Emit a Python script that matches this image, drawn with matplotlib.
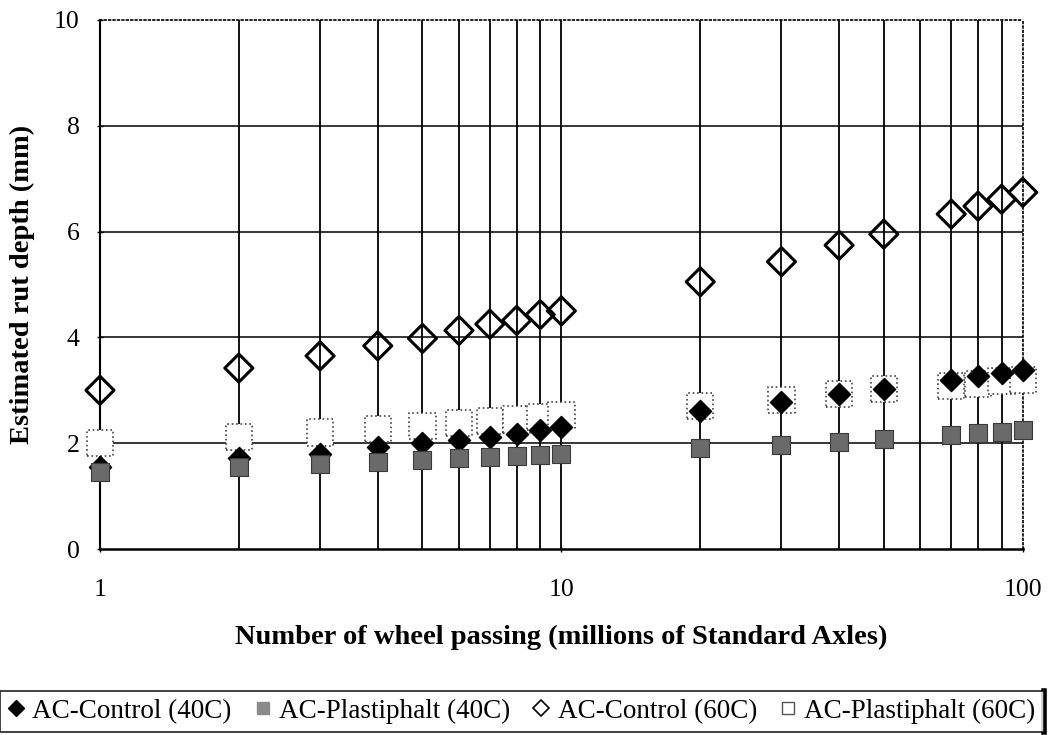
import numpy as np
import matplotlib
matplotlib.use('Agg')
import matplotlib.pyplot as plt
from matplotlib.lines import Line2D
from matplotlib.ticker import FixedLocator, NullFormatter

plt.rcParams['font.family'] = ['Liberation Serif', 'DejaVu Serif']

# wheel passes (millions of standard axles)
passes = [1, 2, 3, 4, 5, 6, 7, 8, 9, 10, 20, 30, 40, 50, 70, 80, 90, 100]

control40 = [1.55, 1.72, 1.80, 1.93, 2.00, 2.06, 2.12, 2.17, 2.25, 2.30,
             2.60, 2.77, 2.93, 3.03, 3.20, 3.27, 3.33, 3.38]
plasti40 = [1.45, 1.55, 1.60, 1.65, 1.68, 1.72, 1.73, 1.76, 1.78, 1.80,
            1.90, 1.97, 2.03, 2.08, 2.15, 2.19, 2.22, 2.25]
control60 = [3.00, 3.42, 3.65, 3.84, 3.98, 4.13, 4.25, 4.32, 4.43, 4.50,
             5.05, 5.43, 5.74, 5.95, 6.33, 6.48, 6.61, 6.74]
plasti60 = [2.00, 2.12, 2.20, 2.27, 2.33, 2.38, 2.42, 2.45, 2.50, 2.53,
            2.70, 2.82, 2.93, 3.02, 3.08, 3.12, 3.18, 3.20]

labels = ['AC-Control (40C)', 'AC-Plastiphalt (40C)',
          'AC-Control (60C)', 'AC-Plastiphalt (60C)']

fig = plt.figure(figsize=(10.51, 7.35), dpi=100)
ax = fig.add_axes([0.0951, 0.253, 0.878, 0.72])

ax.set_xscale('log')
ax.set_xlim(1, 100)
ax.set_ylim(0, 10)

# grid: every integer step inside each decade, every 2 mm across
xgrid = list(range(2, 10)) + list(range(10, 100, 10))
for xv in xgrid:
    ax.axvline(xv, color='black', lw=1.3, zorder=1)
for yv in [2, 4, 6, 8]:
    ax.axhline(yv, color='black', lw=1.1, zorder=1)

ax.scatter(passes, plasti60, marker='s', s=19**2, facecolor='white',
           edgecolor='#444444', linewidths=1.2, linestyles=':', zorder=3,
           clip_on=False)
ax.scatter(passes, control40, marker='D', s=11.3**2, facecolor='black',
           edgecolor='black', zorder=4, clip_on=False)
ax.scatter(passes, plasti40, marker='s', s=13**2, facecolor='#6a6a6a',
           edgecolor='#3a3a3a', linewidths=0.8, zorder=5, clip_on=False)
ax.scatter(passes, control60, marker='D', s=14.3**2, facecolor='none',
           edgecolor='black', linewidths=2.2, zorder=4, clip_on=False)

ax.xaxis.set_major_locator(FixedLocator([1, 10, 100]))
ax.set_xticklabels(['1', '10', '100'])
ax.xaxis.set_minor_formatter(NullFormatter())
ax.tick_params(axis='x', which='minor', length=0)
ax.set_yticks([0, 2, 4, 6, 8, 10])
ax.tick_params(axis='both', which='major', length=5, width=1,
               direction='inout', labelsize=18.5)
ax.tick_params(axis='x', pad=19)
ax.tick_params(axis='y', pad=12)

for side in ['top', 'right']:
    ax.spines[side].set_linestyle(':')
    ax.spines[side].set_linewidth(1.2)
ax.spines['left'].set_linewidth(1.5)
ax.spines['bottom'].set_linewidth(1.8)

ax.set_xlabel('Number of wheel passing (millions of Standard Axles)',
              fontsize=20.5, fontweight='bold', labelpad=17)
ax.set_ylabel('Estimated rut depth (mm)', fontsize=20.5, fontweight='bold',
              labelpad=14)

handles = [
    Line2D([], [], ls='none', marker='D', ms=8.5, mfc='black', mec='black'),
    Line2D([], [], ls='none', marker='s', ms=9, mfc='#8a8a8a', mec='#8a8a8a'),
    Line2D([], [], ls='none', marker='D', ms=8.5, mfc='white', mec='black',
           mew=1.2),
    Line2D([], [], ls='none', marker='s', ms=9, mfc='white', mec='#555555',
           mew=1.0),
]
leg = fig.legend(handles, labels, loc='lower left', ncol=4,
                 bbox_to_anchor=(0.0, 0.004, 0.993, 0.07), mode='expand',
                 fontsize=19.5, frameon=True,
                 fancybox=False, handlelength=0.6, handletextpad=0.3,
                 columnspacing=0.4, borderpad=0.3, borderaxespad=0)
leg.get_frame().set_edgecolor('black')
leg.get_frame().set_linewidth(1.3)

# heavier right edge on the legend box
fig.canvas.draw()
bb = leg.get_window_extent().transformed(fig.transFigure.inverted())
fig.add_artist(Line2D([bb.x1, bb.x1], [bb.y0, bb.y1], color='black', lw=4,
                      transform=fig.transFigure))

fig.savefig('out.png', dpi=100)
